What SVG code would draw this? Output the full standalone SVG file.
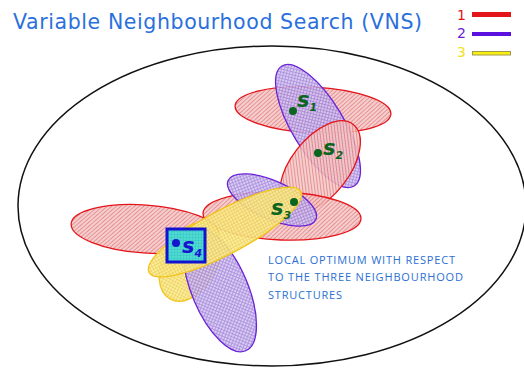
<svg xmlns="http://www.w3.org/2000/svg" width="524" height="368" viewBox="0 0 524 368">
<defs>
<pattern id="hr" width="3" height="3" patternUnits="userSpaceOnUse" patternTransform="rotate(45)"><rect width="3" height="3" fill="#f4c8c8"/><line x1="0.5" y1="0" x2="0.5" y2="3" stroke="#e27c7c" stroke-width="0.9"/></pattern>
<pattern id="hp" width="3" height="3" patternUnits="userSpaceOnUse" patternTransform="rotate(45)"><rect width="3" height="3" fill="#d6c6f0"/><path d="M0.5 0V3M0 0.5H3" stroke="#9a7ed8" stroke-width="0.8"/></pattern>
<pattern id="hy" width="3" height="3" patternUnits="userSpaceOnUse"><rect width="3" height="3" fill="#fcee98"/><path d="M0.5 0V3M0 0.5H3" stroke="#ecce58" stroke-width="0.8"/></pattern>
<pattern id="hb" width="3" height="3" patternUnits="userSpaceOnUse"><rect width="3" height="3" fill="#4fdcd0"/><path d="M0.5 0V3M0 0.5H3" stroke="#3cc4c8" stroke-width="0.6"/></pattern>
</defs>
<style>
.r{fill:url(#hr);fill-opacity:0.88;stroke:#e3151b;stroke-width:1.3}
.p{fill:url(#hp);fill-opacity:0.88;stroke:#6a22d6;stroke-width:1.3}
.y{fill:url(#hy);fill-opacity:0.92;stroke:#f2c41c;stroke-width:1.3}
.lab{font-family:"DejaVu Sans",sans-serif;font-weight:bold;font-style:italic;font-size:21px}
.sub{font-size:11px}
.g{fill:#0b6420}
.bl{fill:#1515d0}
.note{font-family:"Open Sans","DejaVu Sans",sans-serif;font-size:11px;fill:#2a6fd4}
.leg{font-family:"DejaVu Sans",sans-serif;font-size:14px}
</style>
<text x="13" y="28.5" font-family="DejaVu Sans, sans-serif" font-size="20.5" fill="#2a70dc" textLength="409" lengthAdjust="spacing">Variable Neighbourhood Search (VNS)</text>
<g id="legend">
<text class="leg" x="457" y="20" fill="#e3151b">1</text>
<rect x="472" y="12" width="39" height="5" fill="#e3151b"/>
<text class="leg" x="457" y="37.5" fill="#6a22d6">2</text>
<rect x="472" y="32" width="39" height="4" fill="#5b10e0"/>
<text class="leg" x="457" y="57" fill="#f5e020">3</text>
<rect x="472.5" y="51.5" width="38" height="3.5" fill="#f8ee10" stroke="#a09a50" stroke-width="1"/>
</g>
<g id="space"><ellipse cx="272" cy="206" rx="254" ry="160" fill="none" stroke="#111" stroke-width="1.5"/></g>
<g id="n-s1">
<ellipse class="r" cx="313" cy="110" rx="78" ry="23" transform="rotate(3 313 110)"/>
<ellipse class="p" cx="318" cy="126" rx="70" ry="26" transform="rotate(59 318 126)"/>
</g>
<g id="n-s2">
<ellipse class="r" cx="320" cy="167" rx="54" ry="29" transform="rotate(-52 320 167)"/>
</g>
<g id="n-s3">
<ellipse class="r" cx="282" cy="216" rx="79" ry="24" transform="rotate(2 282 216)"/>
<ellipse class="p" cx="272" cy="200" rx="48" ry="19" transform="rotate(24 272 200)"/>
</g>
<g id="n-s4">
<ellipse class="r" cx="145" cy="229" rx="74" ry="24" transform="rotate(4 145 229)"/>
<ellipse class="y" cx="190" cy="262" rx="42" ry="27" transform="rotate(-62 190 262)"/>
<ellipse class="p" cx="220" cy="290" rx="66" ry="28" transform="rotate(67 220 290)"/>
<ellipse class="y" cx="225" cy="232" rx="86" ry="22" transform="rotate(-28 225 232)"/>
<rect x="167" y="229" width="38" height="33" fill="url(#hb)" stroke="#1212d0" stroke-width="3"/>
</g>
<g id="labels">
<circle class="g" cx="293" cy="111" r="4"/>
<text class="lab g" x="297" y="107">s<tspan class="sub" dy="4">1</tspan></text>
<circle class="g" cx="318" cy="153" r="4"/>
<text class="lab g" x="323" y="155">s<tspan class="sub" dy="4">2</tspan></text>
<circle class="g" cx="294" cy="202" r="4"/>
<text class="lab g" x="271" y="215">s<tspan class="sub" dy="4">3</tspan></text>
<circle class="bl" cx="176" cy="243" r="4"/>
<text class="lab bl" x="182" y="253">s<tspan class="sub" dy="4">4</tspan></text>
</g>
<g id="note">
<text class="note" x="268" y="264" textLength="187" lengthAdjust="spacing">LOCAL OPTIMUM WITH RESPECT</text>
<text class="note" x="268" y="281" textLength="195" lengthAdjust="spacing">TO THE THREE NEIGHBOURHOOD</text>
<text class="note" x="268" y="299" textLength="74" lengthAdjust="spacing">STRUCTURES</text>
</g>
</svg>
